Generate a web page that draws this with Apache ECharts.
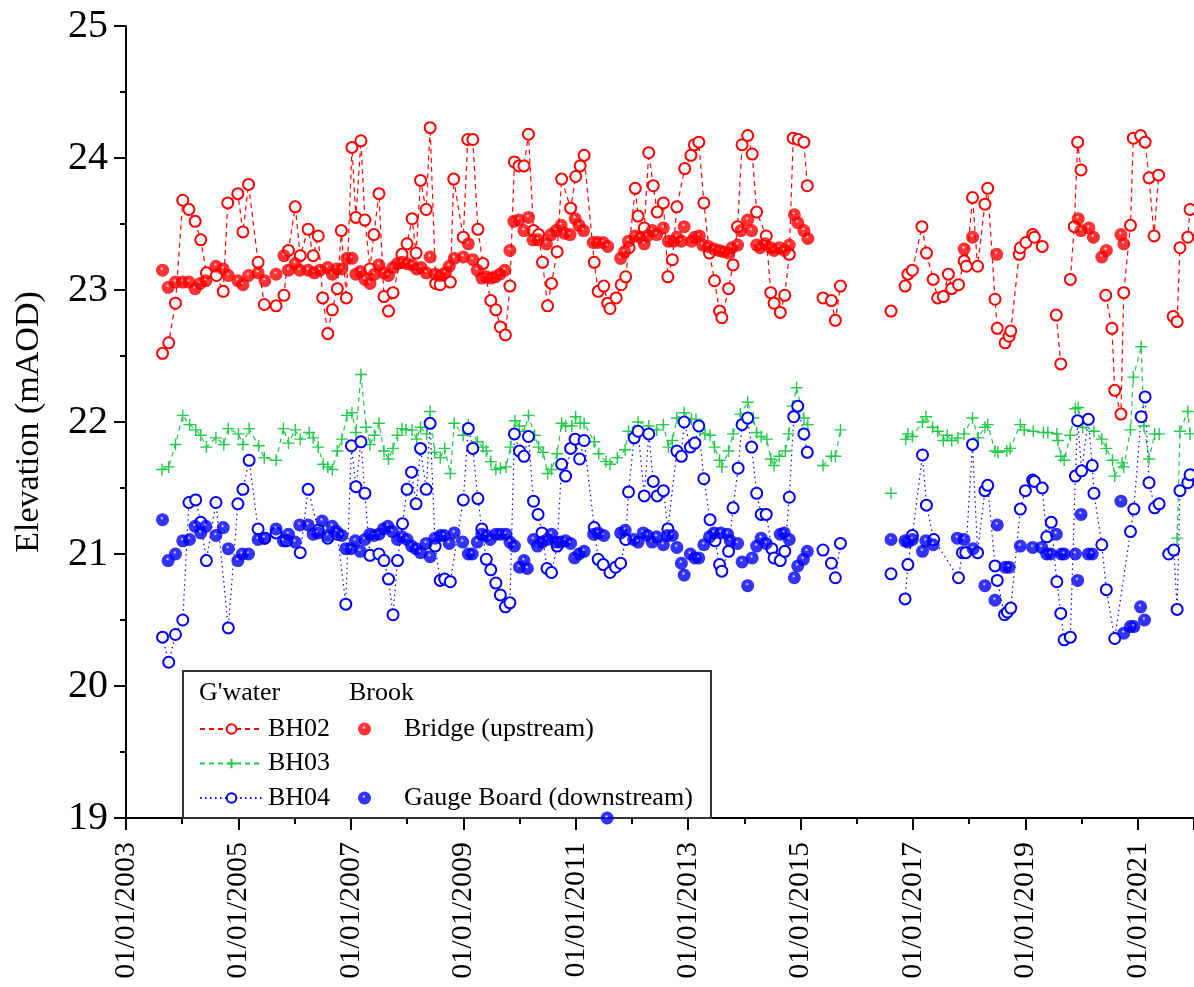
<!DOCTYPE html>
<html><head><meta charset="utf-8">
<script src="https://cdn.jsdelivr.net/npm/echarts@6/dist/echarts.min.js"></script>
<style>html,body{margin:0;padding:0;background:#fff}#c{width:1194px;height:987px}</style>
</head><body><div id="c"></div>
<script>
// [decimal year, elevation mAOD]; null = break in record
const bh02 = [[2003.65,22.52],[2003.76,22.60],[2003.88,22.90],[2004.01,23.68],[2004.12,23.61],[2004.23,23.52],[2004.33,23.38],[2004.43,23.13],[2004.61,23.11],[2004.73,22.99],[2004.81,23.66],[2004.99,23.73],[2005.08,23.44],[2005.18,23.80],[2005.35,23.21],[2005.46,22.89],[2005.67,22.88],[2005.81,22.96],[2005.89,23.30],[2006.01,23.63],[2006.10,23.26],[2006.24,23.46],[2006.33,23.26],[2006.42,23.41],[2006.50,22.94],[2006.59,22.67],[2006.67,22.85],[2006.76,23.01],[2006.83,23.45],[2006.92,22.94],[2007.02,24.08],[2007.09,23.55],[2007.18,24.13],[2007.25,23.53],[2007.34,23.16],[2007.41,23.42],[2007.50,23.73],[2007.59,22.95],[2007.67,22.84],[2007.75,22.98],[2007.91,23.27],[2008.00,23.35],[2008.09,23.54],[2008.16,23.28],[2008.24,23.83],[2008.34,23.61],[2008.41,24.23],[2008.51,23.05],[2008.59,23.04],[2008.77,23.06],[2008.83,23.84],[2009.00,23.40],[2009.08,24.14],[2009.17,24.14],[2009.26,23.46],[2009.35,23.20],[2009.49,22.92],[2009.58,22.85],[2009.66,22.72],[2009.75,22.66],[2009.83,23.03],[2009.91,23.97],[2009.99,23.94],[2010.08,23.94],[2010.16,24.18],[2010.25,23.45],[2010.34,23.42],[2010.41,23.21],[2010.50,22.88],[2010.57,23.05],[2010.67,23.29],[2010.75,23.84],[2010.91,23.62],[2011.00,23.86],[2011.08,23.94],[2011.15,24.02],[2011.33,23.21],[2011.40,22.99],[2011.50,23.03],[2011.57,22.90],[2011.61,22.86],[2011.72,22.94],[2011.81,23.04],[2011.89,23.10],[2011.95,23.32],[2012.06,23.77],[2012.11,23.56],[2012.22,23.47],[2012.30,24.04],[2012.38,23.79],[2012.45,23.59],[2012.56,23.66],[2012.64,23.10],[2012.72,23.23],[2012.80,23.63],[2012.94,23.92],[2013.05,24.02],[2013.11,24.10],[2013.19,24.12],[2013.28,23.66],[2013.38,23.28],[2013.47,23.07],[2013.56,22.84],[2013.60,22.79],[2013.72,23.01],[2013.80,23.19],[2013.88,23.48],[2013.96,24.10],[2014.06,24.17],[2014.14,24.03],[2014.22,23.59],[2014.39,23.41],[2014.47,22.98],[2014.53,22.90],[2014.64,22.83],[2014.72,22.96],[2014.80,23.27],[2014.87,24.15],[2014.96,24.14],[2015.06,24.12],[2015.12,23.79],[2015.25,null],[2015.40,22.94],[2015.55,22.92],[2015.62,22.77],[2015.71,23.03],[2016.2,null],[2016.61,22.84],[2016.75,null],[2016.86,23.03],[2016.91,23.12],[2016.99,23.15],[2017.16,23.48],[2017.24,23.28],[2017.36,23.08],[2017.44,22.94],[2017.54,22.95],[2017.63,23.12],[2017.69,23.01],[2017.81,23.04],[2017.91,23.22],[2017.95,23.18],[2018.06,23.70],[2018.15,23.18],[2018.28,23.65],[2018.33,23.77],[2018.46,22.93],[2018.50,22.71],[2018.64,22.60],[2018.71,22.65],[2018.74,22.69],[2018.89,23.27],[2018.91,23.32],[2019.01,23.36],[2019.13,23.42],[2019.16,23.40],[2019.30,23.33],[2019.45,null],[2019.55,22.81],[2019.63,22.44],[2019.70,null],[2019.80,23.08],[2019.87,23.48],[2019.93,24.12],[2019.99,23.91],[2020.2,null],[2020.43,22.96],[2020.54,22.71],[2020.59,22.24],[2020.70,22.06],[2020.75,22.98],[2020.87,23.49],[2020.92,24.15],[2021.05,24.17],[2021.13,24.12],[2021.20,23.85],[2021.29,23.41],[2021.37,23.87],[2021.5,null],[2021.63,22.80],[2021.70,22.76],[2021.75,23.32],[2021.89,23.40],[2021.93,23.61]];

const bh03 = [[2003.64,21.64],[2003.76,21.66],[2003.88,21.83],[2004.01,22.05],[2004.13,21.98],[2004.24,21.94],[2004.33,21.90],[2004.43,21.81],[2004.60,21.88],[2004.74,21.83],[2004.82,21.95],[2005.00,21.91],[2005.08,21.83],[2005.19,21.95],[2005.36,21.82],[2005.46,21.73],[2005.67,21.71],[2005.80,21.95],[2005.89,21.84],[2006.01,21.94],[2006.10,21.87],[2006.26,21.92],[2006.33,21.88],[2006.42,21.81],[2006.51,21.68],[2006.59,21.66],[2006.67,21.64],[2006.76,21.78],[2006.84,21.87],[2006.93,22.05],[2007.02,22.07],[2007.09,21.92],[2007.18,22.36],[2007.27,21.96],[2007.34,21.83],[2007.42,21.90],[2007.50,21.99],[2007.59,21.78],[2007.67,21.72],[2007.75,21.80],[2007.83,21.90],[2007.91,21.95],[2007.98,21.94],[2008.09,21.94],[2008.17,21.87],[2008.24,21.96],[2008.35,21.91],[2008.41,22.08],[2008.49,21.77],[2008.59,21.73],[2008.67,21.80],[2008.77,21.61],[2008.84,21.99],[2009.00,21.90],[2009.09,21.98],[2009.25,21.85],[2009.35,21.81],[2009.41,21.78],[2009.49,21.70],[2009.58,21.64],[2009.66,21.65],[2009.76,21.66],[2009.84,21.81],[2009.92,22.01],[2010.00,21.97],[2010.09,21.93],[2010.16,22.05],[2010.27,21.90],[2010.34,21.81],[2010.42,21.77],[2010.50,21.61],[2010.57,21.64],[2010.67,21.76],[2010.75,21.99],[2010.82,21.97],[2010.93,21.97],[2011.00,22.04],[2011.08,21.99],[2011.15,21.99],[2011.33,21.85],[2011.41,21.76],[2011.54,21.70],[2011.61,21.68],[2011.74,21.73],[2011.88,21.79],[2011.94,21.93],[2012.11,22.00],[2012.30,21.97],[2012.44,21.94],[2012.56,21.98],[2012.65,21.81],[2012.72,21.86],[2012.80,22.03],[2012.93,22.07],[2013.06,22.02],[2013.14,22.02],[2013.21,21.94],[2013.30,21.91],[2013.39,21.90],[2013.47,21.81],[2013.56,21.71],[2013.60,21.66],[2013.72,21.78],[2013.80,21.91],[2013.93,22.06],[2014.06,22.15],[2014.16,22.03],[2014.22,21.92],[2014.30,21.89],[2014.40,21.87],[2014.47,21.72],[2014.53,21.67],[2014.62,21.74],[2014.73,21.78],[2014.79,21.91],[2014.86,22.12],[2014.93,22.26],[2015.06,22.03],[2015.13,21.98],[2015.25,null],[2015.40,21.67],[2015.55,21.74],[2015.62,21.74],[2015.71,21.94],[2016.2,null],[2016.61,21.46],[2016.75,null],[2016.87,21.87],[2016.91,21.91],[2016.99,21.89],[2017.17,22.00],[2017.23,22.04],[2017.35,21.96],[2017.44,21.93],[2017.54,21.86],[2017.61,21.90],[2017.69,21.86],[2017.80,21.88],[2017.91,21.91],[2018.06,22.03],[2018.16,21.88],[2018.28,21.96],[2018.33,21.98],[2018.46,21.78],[2018.51,21.77],[2018.67,21.78],[2018.73,21.80],[2018.91,21.98],[2018.98,21.94],[2019.14,21.93],[2019.32,21.92],[2019.40,21.92],[2019.56,21.91],[2019.58,21.86],[2019.63,21.74],[2019.69,21.71],[2019.80,21.90],[2019.89,22.10],[2019.94,22.11],[2020.02,21.96],[2020.22,21.93],[2020.36,21.87],[2020.44,21.80],[2020.55,21.71],[2020.59,21.59],[2020.72,21.69],[2020.75,21.66],[2020.87,21.94],[2020.92,22.34],[2021.06,22.57],[2021.11,21.97],[2021.20,21.72],[2021.30,21.91],[2021.38,21.91],[2021.5,null],[2021.70,21.12],[2021.75,21.93],[2021.89,22.08],[2021.93,21.91]];

const bh04 = [[2003.65,20.37],[2003.76,20.18],[2003.88,20.39],[2004.01,20.50],[2004.12,21.39],[2004.24,21.41],[2004.33,21.24],[2004.43,20.95],[2004.60,21.39],[2004.82,20.44],[2004.99,21.38],[2005.08,21.49],[2005.19,21.71],[2005.35,21.19],[2005.47,21.12],[2005.67,21.16],[2005.85,21.10],[2006.10,21.01],[2006.24,21.49],[2006.42,21.18],[2006.59,21.12],[2006.76,21.15],[2006.91,20.62],[2007.01,21.82],[2007.09,21.51],[2007.18,21.85],[2007.25,21.46],[2007.34,20.99],[2007.50,21.00],[2007.59,20.95],[2007.67,20.81],[2007.75,20.54],[2007.83,20.95],[2007.92,21.23],[2008.00,21.49],[2008.08,21.62],[2008.16,21.38],[2008.24,21.80],[2008.34,21.49],[2008.41,21.99],[2008.50,21.06],[2008.59,20.80],[2008.67,20.81],[2008.77,20.79],[2009.00,21.41],[2009.09,21.95],[2009.17,21.80],[2009.26,21.42],[2009.33,21.19],[2009.41,20.96],[2009.49,20.88],[2009.58,20.78],[2009.66,20.69],[2009.75,20.60],[2009.83,20.63],[2009.91,21.91],[2010.00,21.78],[2010.08,21.74],[2010.16,21.89],[2010.25,21.40],[2010.33,21.30],[2010.40,21.16],[2010.49,20.89],[2010.57,20.86],[2010.67,21.06],[2010.75,21.68],[2010.82,21.59],[2010.91,21.80],[2010.99,21.87],[2011.07,21.72],[2011.15,21.86],[2011.33,21.20],[2011.40,20.96],[2011.49,20.92],[2011.61,20.86],[2011.71,20.90],[2011.80,20.93],[2011.89,21.11],[2011.94,21.47],[2012.04,21.88],[2012.11,21.93],[2012.22,21.44],[2012.30,21.91],[2012.38,21.55],[2012.45,21.44],[2012.56,21.48],[2012.64,21.19],[2012.80,21.78],[2012.88,21.74],[2012.93,22.00],[2013.04,21.81],[2013.12,21.84],[2013.19,21.97],[2013.28,21.57],[2013.39,21.26],[2013.48,21.10],[2013.56,20.92],[2013.60,20.87],[2013.72,21.02],[2013.80,21.35],[2013.89,21.65],[2013.96,21.98],[2014.06,22.03],[2014.13,21.81],[2014.22,21.46],[2014.30,21.30],[2014.39,21.30],[2014.49,21.04],[2014.53,20.97],[2014.64,20.95],[2014.72,21.02],[2014.80,21.43],[2014.88,22.04],[2014.95,22.12],[2015.06,21.91],[2015.12,21.77],[2015.25,null],[2015.40,21.03],[2015.55,20.93],[2015.62,20.82],[2015.71,21.08],[2016.2,null],[2016.61,20.85],[2016.75,null],[2016.86,20.66],[2016.91,20.92],[2016.99,21.14],[2017.17,21.75],[2017.24,21.37],[2017.37,21.11],[2017.81,20.82],[2017.88,21.01],[2017.94,21.01],[2018.06,21.83],[2018.15,21.01],[2018.28,21.48],[2018.33,21.52],[2018.46,20.91],[2018.50,20.80],[2018.63,20.54],[2018.68,20.56],[2018.74,20.59],[2018.91,21.34],[2019.00,21.48],[2019.13,21.56],[2019.16,21.55],[2019.30,21.50],[2019.38,21.13],[2019.46,21.24],[2019.56,20.79],[2019.63,20.55],[2019.69,20.35],[2019.80,20.37],[2019.89,21.59],[2019.93,22.01],[2020.00,21.63],[2020.12,22.02],[2020.19,21.67],[2020.22,21.46],[2020.36,21.07],[2020.44,20.73],[2020.59,20.36],[2020.87,21.17],[2020.93,21.34],[2021.06,22.04],[2021.13,22.19],[2021.20,21.54],[2021.30,21.35],[2021.38,21.38],[2021.47,null],[2021.55,21.00],[2021.64,21.03],[2021.70,20.58],[2021.75,21.48],[2021.89,21.54],[2021.93,21.60]];

const bridge = [[2003.65,23.15],[2003.75,23.02],[2003.88,23.06],[2004.01,23.06],[2004.12,23.06],[2004.23,23.01],[2004.32,23.05],[2004.42,23.07],[2004.60,23.18],[2004.73,23.16],[2004.82,23.11],[2004.99,23.07],[2005.08,23.04],[2005.18,23.11],[2005.35,23.13],[2005.47,23.07],[2005.67,23.12],[2005.81,23.26],[2005.89,23.15],[2006.01,23.20],[2006.09,23.15],[2006.24,23.15],[2006.35,23.13],[2006.45,23.15],[2006.59,23.17],[2006.67,23.12],[2006.75,23.16],[2006.84,23.16],[2006.93,23.24],[2007.02,23.24],[2007.09,23.12],[2007.17,23.14],[2007.25,23.08],[2007.34,23.05],[2007.42,23.12],[2007.50,23.19],[2007.59,23.13],[2007.67,23.11],[2007.75,23.17],[2007.83,23.20],[2007.91,23.21],[2008.00,23.20],[2008.09,23.19],[2008.17,23.16],[2008.25,23.17],[2008.34,23.13],[2008.41,23.25],[2008.50,23.12],[2008.59,23.11],[2008.68,23.13],[2008.75,23.18],[2008.84,23.24],[2009.00,23.25],[2009.09,23.35],[2009.17,23.23],[2009.25,23.15],[2009.33,23.09],[2009.41,23.10],[2009.49,23.09],[2009.57,23.10],[2009.65,23.12],[2009.74,23.15],[2009.83,23.30],[2009.90,23.52],[2009.99,23.53],[2010.08,23.45],[2010.16,23.55],[2010.24,23.38],[2010.33,23.38],[2010.48,23.35],[2010.56,23.42],[2010.65,23.45],[2010.74,23.49],[2010.80,23.43],[2010.90,23.42],[2010.99,23.54],[2011.06,23.49],[2011.14,23.45],[2011.31,23.36],[2011.39,23.36],[2011.49,23.36],[2011.57,23.33],[2011.80,23.24],[2011.87,23.29],[2011.94,23.37],[2012.06,23.41],[2012.15,23.40],[2012.22,23.35],[2012.27,23.41],[2012.36,23.45],[2012.44,23.42],[2012.56,23.47],[2012.65,23.37],[2012.74,23.37],[2012.80,23.40],[2012.88,23.37],[2012.93,23.48],[2013.06,23.37],[2013.12,23.40],[2013.20,23.41],[2013.26,23.34],[2013.36,23.33],[2013.46,23.31],[2013.55,23.30],[2013.63,23.29],[2013.72,23.28],[2013.78,23.32],[2013.88,23.34],[2013.94,23.45],[2014.06,23.53],[2014.13,23.45],[2014.22,23.34],[2014.28,23.32],[2014.37,23.35],[2014.47,23.32],[2014.53,23.30],[2014.62,23.32],[2014.71,23.30],[2014.80,23.34],[2014.89,23.57],[2014.95,23.51],[2015.06,23.45],[2015.13,23.39],[2017.91,23.31],[2018.06,23.40],[2018.49,23.27],[2019.94,23.54],[2019.99,23.45],[2020.13,23.47],[2020.21,23.40],[2020.36,23.25],[2020.44,23.30],[2020.70,23.42],[2020.75,23.35]];

const gauge = [[2003.65,21.26],[2003.75,20.95],[2003.88,21.00],[2004.01,21.10],[2004.13,21.11],[2004.23,21.21],[2004.33,21.16],[2004.42,21.21],[2004.60,21.14],[2004.73,21.20],[2004.82,21.04],[2004.99,20.95],[2005.07,21.00],[2005.18,21.00],[2005.35,21.11],[2005.46,21.12],[2005.67,21.19],[2005.80,21.10],[2005.89,21.15],[2006.01,21.09],[2006.09,21.22],[2006.24,21.22],[2006.33,21.15],[2006.41,21.16],[2006.49,21.25],[2006.59,21.14],[2006.67,21.21],[2006.75,21.17],[2006.84,21.14],[2006.91,21.04],[2007.00,21.04],[2007.08,21.10],[2007.17,21.02],[2007.25,21.11],[2007.34,21.15],[2007.41,21.14],[2007.50,21.15],[2007.58,21.19],[2007.66,21.21],[2007.74,21.17],[2007.83,21.11],[2007.91,21.13],[2008.00,21.11],[2008.08,21.06],[2008.16,21.04],[2008.24,21.01],[2008.34,21.08],[2008.41,20.98],[2008.50,21.12],[2008.59,21.14],[2008.66,21.14],[2008.75,21.08],[2008.84,21.16],[2008.99,21.09],[2009.09,21.00],[2009.16,21.00],[2009.25,21.09],[2009.33,21.15],[2009.41,21.14],[2009.48,21.11],[2009.58,21.15],[2009.66,21.15],[2009.76,21.15],[2009.83,21.09],[2009.91,21.06],[2010.00,20.90],[2010.08,20.95],[2010.14,20.89],[2010.25,21.11],[2010.32,21.06],[2010.40,21.09],[2010.49,21.11],[2010.57,21.15],[2010.65,21.09],[2010.73,21.09],[2010.82,21.10],[2010.91,21.08],[2010.98,20.97],[2011.06,21.00],[2011.15,21.02],[2011.32,21.15],[2011.40,21.16],[2011.50,21.14],[2011.56,19.00],[2011.80,21.16],[2011.88,21.18],[2012.03,21.11],[2012.11,21.09],[2012.20,21.16],[2012.28,21.14],[2012.36,21.09],[2012.44,21.13],[2012.56,21.07],[2012.63,21.14],[2012.72,21.14],[2012.80,21.05],[2012.88,20.93],[2012.93,20.84],[2013.04,21.00],[2013.12,20.97],[2013.19,20.97],[2013.28,21.07],[2013.38,21.13],[2013.46,21.16],[2013.58,21.16],[2013.70,21.15],[2013.75,21.10],[2013.88,21.08],[2013.96,20.94],[2014.06,20.76],[2014.14,20.97],[2014.22,21.06],[2014.30,21.12],[2014.39,21.08],[2014.64,21.15],[2014.71,21.16],[2014.80,21.11],[2014.89,20.82],[2014.95,20.91],[2015.05,20.96],[2015.12,21.02],[2016.61,21.11],[2016.86,21.10],[2016.91,21.09],[2016.99,21.11],[2017.17,21.02],[2017.23,21.10],[2017.36,21.07],[2017.79,21.12],[2017.91,21.11],[2018.07,21.04],[2018.28,20.76],[2018.46,20.65],[2018.50,21.22],[2018.64,20.90],[2018.71,20.90],[2018.91,21.06],[2019.13,21.05],[2019.29,21.05],[2019.38,21.00],[2019.45,21.00],[2019.55,21.15],[2019.64,21.00],[2019.69,21.00],[2019.89,21.00],[2019.93,20.80],[2019.99,21.30],[2020.12,21.00],[2020.19,21.00],[2020.70,21.40],[2020.75,20.40],[2020.87,20.45],[2020.93,20.45],[2021.05,20.60],[2021.12,20.50]];

const yTicks = [19, 20, 21, 22, 23, 24, 25];
const xYears = [2003, 2005, 2007, 2009, 2011, 2013, 2015, 2017, 2019, 2021];

const FONT = 'Liberation Serif';
const fix = a => a.map(p => [p[0], p[1] === null ? '-' : p[1]]);
const ball = (main, dark) => ({
  type: 'radial', x: 0.45, y: 0.38, r: 0.62,
  colorStops: [{offset: 0, color: '#ffffff'}, {offset: 0.22, color: main}, {offset: 0.75, color: main}, {offset: 1, color: dark}]
});
const plus = 'path://M5,0 L5,10 M0,5 L10,5';

const chart = echarts.init(document.getElementById('c'), null, {renderer: 'canvas'});
chart.setOption({
  backgroundColor: '#ffffff',
  animation: false,
  grid: {left: 126, right: 0, top: 26, bottom: 169, containLabel: false},
  xAxis: {
    type: 'value', min: 2003, max: 2022, interval: 2,
    axisLine: {show: true, onZero: false, lineStyle: {color: '#000', width: 2}},
    axisTick: {show: true, length: 12, lineStyle: {color: '#000', width: 2}},
    minorTick: {show: true, splitNumber: 2, length: 6, lineStyle: {color: '#000', width: 2}},
    splitLine: {show: false},
    axisLabel: {
      rotate: 90, margin: 24, fontFamily: FONT, fontSize: 30, color: '#000',
      showMaxLabel: false,
      formatter: v => xYears.indexOf(v) >= 0 ? '01/01/' + v : ''
    }
  },
  yAxis: {
    type: 'value', min: 19, max: 25, interval: 1,
    name: 'Elevation (mAOD)', nameLocation: 'middle', nameGap: 80, nameRotate: 90,
    nameTextStyle: {fontFamily: FONT, fontSize: 34, color: '#000'},
    axisLine: {show: true, onZero: false, lineStyle: {color: '#000', width: 2}},
    axisTick: {show: true, length: 12, lineStyle: {color: '#000', width: 2}},
    minorTick: {show: true, splitNumber: 2, length: 6, lineStyle: {color: '#000', width: 2}},
    splitLine: {show: false},
    axisLabel: {
      margin: 18, fontFamily: FONT, fontSize: 40, color: '#000',
      formatter: v => yTicks.indexOf(v) >= 0 ? String(v) : ''
    }
  },
  legend: [
    {
      data: ['BH02', 'BH03', 'BH04'], orient: 'vertical', left: 194, top: 710,
      itemWidth: 63, itemHeight: 12, itemGap: 6.5,
      textStyle: {fontFamily: FONT, fontSize: 26, color: '#000', lineHeight: 28}
    },
    {
      data: ['Bridge (upstream)', 'Gauge Board (downstream)'], orient: 'vertical', left: 353, top: 710,
      itemWidth: 63, itemHeight: 13, itemGap: 41,
      textStyle: {fontFamily: FONT, fontSize: 26, color: '#000', lineHeight: 28, padding: [0, 0, 0, 3]}
    }
  ],
  graphic: [
    {type: 'rect', shape: {x: 183, y: 671, width: 528, height: 147}, style: {fill: 'rgba(0,0,0,0)', stroke: '#333', lineWidth: 2}, z: 1},
    {type: 'text', left: 199, top: 680, style: {text: "G'water", font: '26px "Liberation Serif"', fill: '#000'}},
    {type: 'text', left: 349, top: 680, style: {text: 'Brook', font: '26px "Liberation Serif"', fill: '#000'}}
  ],
  series: [
    {
      name: 'BH02', type: 'line', data: fix(bh02), connectNulls: false,
      symbol: 'emptyCircle', symbolSize: 11,
      lineStyle: {color: '#ff0000', width: 1.2, type: [5, 4]},
      itemStyle: {color: '#ff0000', borderColor: '#ff0000', borderWidth: 1.3},
      z: 2
    },
    {
      name: 'BH03', type: 'line', data: fix(bh03), connectNulls: false,
      symbol: plus, symbolSize: 12,
      lineStyle: {color: '#22c94a', width: 1.2, type: [5, 4]},
      itemStyle: {color: 'rgba(0,0,0,0)', borderColor: '#22c94a', borderWidth: 1.4},
      z: 2
    },
    {
      name: 'BH04', type: 'line', data: fix(bh04), connectNulls: false,
      symbol: 'emptyCircle', symbolSize: 11,
      lineStyle: {color: '#0000ff', width: 1.2, type: [1.5, 3.5]},
      itemStyle: {color: '#0000ff', borderColor: '#0000ff', borderWidth: 1.3},
      z: 2
    },
    {
      name: 'Bridge (upstream)', type: 'scatter', data: bridge,
      symbol: 'circle', symbolSize: 13,
      itemStyle: {color: ball('#ff0000', '#c80000')},
      z: 3
    },
    {
      name: 'Gauge Board (downstream)', type: 'scatter', data: gauge,
      symbol: 'circle', symbolSize: 13,
      itemStyle: {color: ball('#0000ff', '#0000b0')},
      z: 3
    }
  ]
});
</script>
</body></html>
